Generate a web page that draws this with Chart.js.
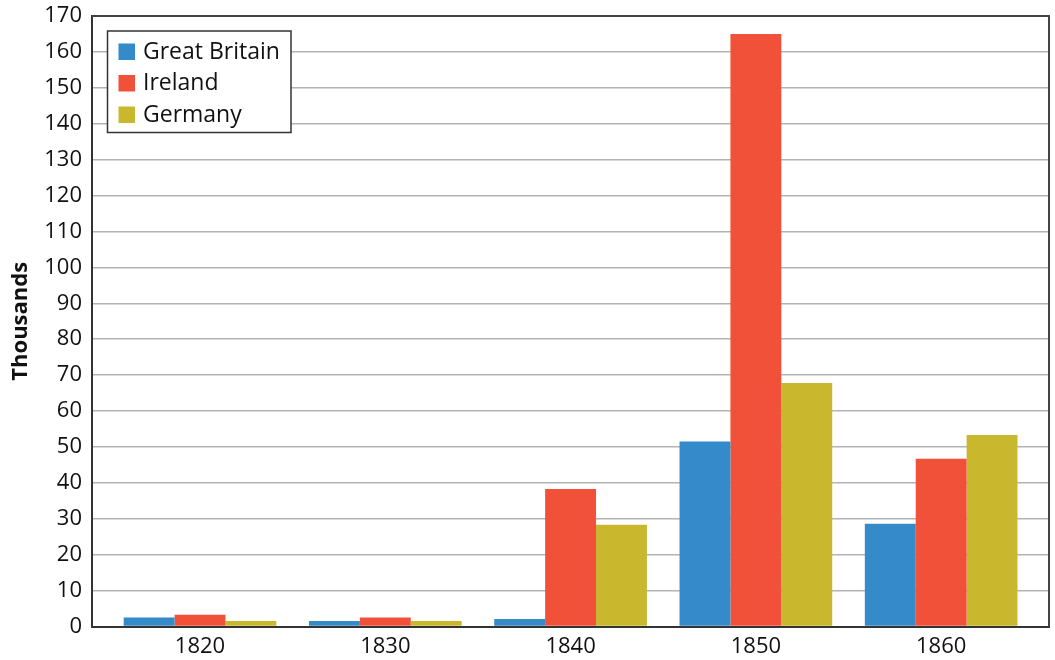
<!DOCTYPE html>
<html>
<head>
<meta charset="utf-8">
<script src="https://cdn.jsdelivr.net/npm/chart.js@4"></script>
<style>
html,body{margin:0;padding:0;background:#fff;}
canvas{display:block;}
</style>
</head>
<body>
<canvas id="c" width="1055" height="660"></canvas>
<script>
const categories = ["1820", "1830", "1840", "1850", "1860"];
const greatBritain = [2.5, 1.5, 2.1, 51.5, 28.6];
const ireland = [3.3, 2.5, 38.3, 165, 46.7];
const germany = [1.5, 1.5, 28.3, 67.8, 53.3];
const seriesNames = ["Great Britain", "Ireland", "Germany"];
const seriesColors = ["#358bca", "#f05138", "#c9b82e"];
const yTicks = [0, 10, 20, 30, 40, 50, 60, 70, 80, 90, 100, 110, 120, 130, 140, 150, 160, 170];

const FONT = "'Open Sans', sans-serif";
const toPoints = arr => arr.map((v, i) => ({x: i, y: v}));

const framePlugin = {
  id: 'frame',
  afterDatasetsDraw(chart) {
    const {ctx, chartArea: a} = chart;
    ctx.save();
    ctx.strokeStyle = '#444';
    ctx.lineWidth = 2;
    ctx.beginPath();
    ctx.moveTo(a.left, a.top);
    ctx.lineTo(a.right, a.top);
    ctx.lineTo(a.right, a.bottom);
    ctx.stroke();
    ctx.restore();
  },
  afterDraw(chart) {
    const {ctx, chartArea: a} = chart;
    const ds = chart.data.datasets;
    const bx = a.left + 15.5, by = a.top + 15, bw = 183.5, bh = 101.5;
    ctx.save();
    ctx.fillStyle = '#fff';
    ctx.fillRect(bx, by, bw, bh);
    ctx.strokeStyle = '#333';
    ctx.lineWidth = 1.5;
    ctx.strokeRect(bx, by, bw, bh);
    ctx.font = "23px " + FONT;
    ctx.textBaseline = 'middle';
    ds.forEach((d, i) => {
      const sy = by + 12.5 + i * 31.5;
      ctx.fillStyle = d.backgroundColor;
      ctx.fillRect(bx + 11, sy, 16.5, 16.5);
      ctx.fillStyle = '#111';
      ctx.fillText(d.label, bx + 35.5, sy + 8.5);
    });
    ctx.restore();
  }
};

new Chart(document.getElementById('c'), {
  type: 'bar',
  data: {
    datasets: [
      {label: seriesNames[0], data: toPoints(greatBritain), backgroundColor: seriesColors[0]},
      {label: seriesNames[1], data: toPoints(ireland), backgroundColor: seriesColors[1]},
      {label: seriesNames[2], data: toPoints(germany), backgroundColor: seriesColors[2]}
    ]
  },
  options: {
    responsive: false,
    animation: false,
    layout: {padding: {top: 16, right: 6, left: 0, bottom: 0}},
    datasets: {bar: {barPercentage: 1.0, categoryPercentage: 0.824, borderWidth: 0}},
    plugins: {legend: {display: false}, tooltip: {enabled: false}},
    scales: {
      x: {
        type: 'linear',
        min: -0.583,
        max: 4.582,
        offset: false,
        afterBuildTicks: s => { s.ticks = categories.map((_, i) => ({value: i})); },
        afterFit: s => { s.height = 33.5; s.paddingLeft = 0; s.paddingRight = 0; },
        grid: {display: false, drawTicks: false},
        border: {display: true, color: '#333', width: 2},
        ticks: {
          callback: v => categories[v],
          font: {family: FONT, size: 22},
          color: '#111',
          padding: 7,
          maxRotation: 0,
          autoSkip: false
        }
      },
      y: {
        min: 0,
        max: 170,
        afterBuildTicks: s => { s.ticks = yTicks.map(v => ({value: v})); },
        afterFit: s => { s.width = 92; s.paddingTop = 0; s.paddingBottom = 0; },
        grid: {color: '#b3b3b3', lineWidth: 1.5, drawTicks: false},
        border: {display: true, color: '#333', width: 2},
        ticks: {
          font: {family: FONT, size: 22},
          color: '#111',
          padding: 10
        },
        title: {
          display: true,
          text: 'Thousands',
          font: {family: FONT, size: 22, weight: 'bold'},
          color: '#111',
          padding: {top: 8, bottom: 0}
        }
      }
    }
  },
  plugins: [framePlugin]
});
</script>
</body>
</html>
